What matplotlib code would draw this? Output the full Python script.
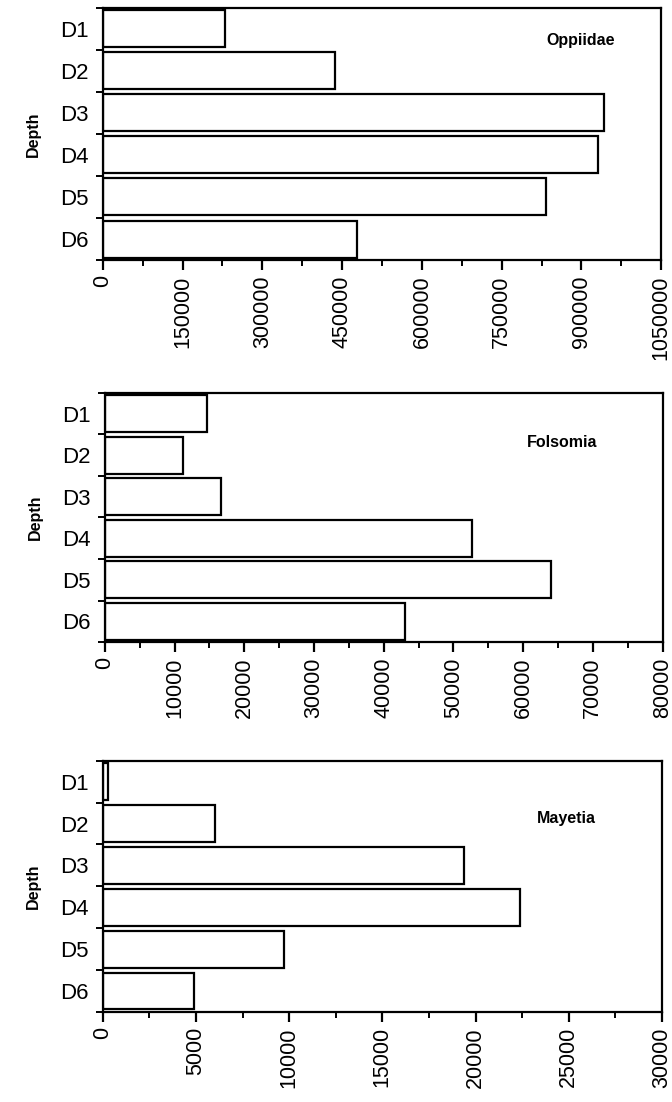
import numpy as np
import matplotlib
matplotlib.use("Agg")
import matplotlib.pyplot as plt
from matplotlib.ticker import MultipleLocator, StrMethodFormatter

plt.rcParams['font.family'] = ['Liberation Sans', 'DejaVu Sans']

depths = ["D1", "D2", "D3", "D4", "D5", "D6"]

oppiidae = [229000, 437000, 943000, 932000, 833000, 477000]
folsomia = [14600, 11200, 16600, 52600, 64000, 43100]
mayetia = [270, 6000, 19400, 22400, 9700, 4900]

panels = [
    ("Oppiidae", oppiidae, 1050000, 150000, (0.855, 0.87)),
    ("Folsomia", folsomia, 80000, 10000, (0.82, 0.80)),
    ("Mayetia", mayetia, 30000, 5000, (0.83, 0.77)),
]

# axes boxes in figure fractions (left, bottom, width, height)
boxes = [
    (0.153, 0.764, 0.831, 0.229),
    (0.156, 0.4174, 0.830, 0.226),
    (0.153, 0.0817, 0.832, 0.228),
]

fig = plt.figure(figsize=(6.72, 11.02), dpi=100)

for (name, vals, xmax, step, tpos), box in zip(panels, boxes):
    ax = fig.add_axes(box)
    y = np.arange(len(depths))
    ax.barh(y, vals, height=0.88, color="white", edgecolor="black", linewidth=1.6)
    ax.set_xlim(0, xmax)
    ax.set_ylim(len(depths) - 0.5, -0.5)

    ax.xaxis.set_major_locator(MultipleLocator(step))
    ax.xaxis.set_minor_locator(MultipleLocator(step / 2))
    ax.xaxis.set_major_formatter(StrMethodFormatter("{x:.0f}"))
    ax.tick_params(axis="x", which="major", direction="out", length=7, width=1.6,
                   labelsize=15.5, labelrotation=90, pad=4)
    ax.tick_params(axis="x", which="minor", direction="out", length=4, width=1.4)

    # depth labels at centres, ticks at band boundaries
    ax.set_yticks(y)
    ax.set_yticklabels(depths)
    ax.set_yticks(np.arange(len(depths) + 1) - 0.5, minor=True)
    ax.tick_params(axis="y", which="major", length=0, labelsize=16, pad=10)
    ax.tick_params(axis="y", which="minor", direction="out", length=5, width=1.4)

    for s in ax.spines.values():
        s.set_linewidth(1.6)

    ax.set_ylabel("Depth", fontsize=11.5, fontweight="bold", labelpad=14)
    ax.text(tpos[0], tpos[1], name, transform=ax.transAxes, fontsize=11.5,
            fontweight="bold", ha="center", va="center")

fig.savefig("out.png", dpi=100)
